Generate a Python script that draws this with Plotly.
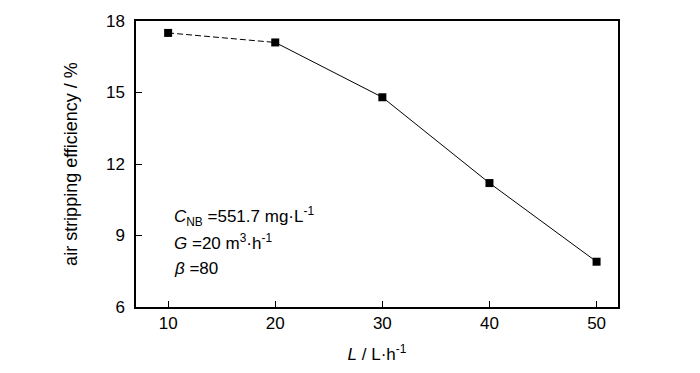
import plotly.graph_objects as go

L_vals = [10, 20, 30, 40, 50]
efficiency = [17.5, 17.1, 14.8, 11.2, 7.9]
x_ticks = [10, 20, 30, 40, 50]
y_ticks = [6, 9, 12, 15, 18]
notes = ["<i>C</i><sub>NB</sub> =551.7 mg·L<sup>-1</sup>",
         "<i>G</i> =20 m<sup>3</sup>·h<sup>-1</sup>",
         "<i>β</i> =80"]
note_y = [0.316, 0.226, 0.136]

FONT = "Liberation Sans, Arial"

fig = go.Figure()
# dashed first segment
fig.add_trace(go.Scatter(x=L_vals[:2], y=efficiency[:2], mode="lines",
                         line=dict(color="black", width=1, dash="6px,3px"),
                         showlegend=False, hoverinfo="skip"))
fig.add_trace(go.Scatter(x=L_vals[1:], y=efficiency[1:], mode="lines",
                         line=dict(color="black", width=1),
                         showlegend=False, hoverinfo="skip"))
fig.add_trace(go.Scatter(x=L_vals, y=efficiency, mode="markers",
                         marker=dict(symbol="square", size=8, color="black"),
                         showlegend=False))

for t, yy in zip(notes, note_y):
    fig.add_annotation(x=0.079, y=yy, xref="paper", yref="paper",
                       text=t, showarrow=False, xanchor="left", yanchor="middle",
                       xshift=-2,
                       font=dict(size=17, color="black", family=FONT))

fig.update_layout(
    width=700, height=373,
    margin=dict(l=136, r=82, t=14, b=65),
    paper_bgcolor="white", plot_bgcolor="white",
    font=dict(family=FONT, size=17, color="black"),
    xaxis=dict(range=[7, 52], tickvals=x_ticks, ticks="inside", ticklen=6,
               tickwidth=1, tickcolor="black", showline=True, linecolor="black",
               linewidth=1.5, mirror=True, showgrid=False, zeroline=False,
               title=dict(text="<i>L</i> / L·h<sup>-1</sup>", font=dict(size=17), standoff=16)),
    yaxis=dict(range=[6, 18], tickvals=y_ticks, ticks="inside", ticklen=6,
               tickwidth=1, tickcolor="black", showline=True, linecolor="black",
               linewidth=1.5, mirror=True, showgrid=False, zeroline=False,
               ticklabelstandoff=6,
               title=dict(text="air stripping efficiency / %", font=dict(size=18), standoff=24)),
)

fig.write_html("out.html", config={"displayModeBar": False},
               post_script="document.body.style.margin='0';")
